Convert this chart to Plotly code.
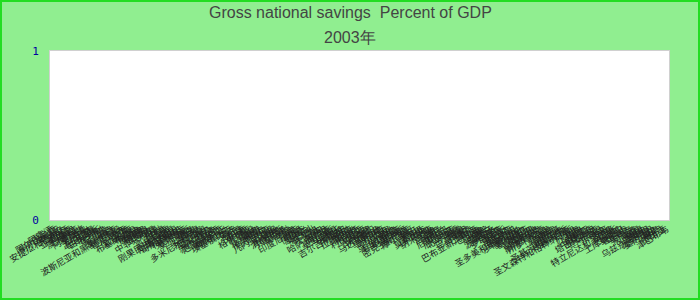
import plotly.graph_objects as go

countries = [
    "阿富汗", "阿尔巴尼亚", "阿尔及利亚", "安哥拉", "安提瓜和巴布达", "阿根廷", "亚美尼亚", "阿鲁巴", "澳大利亚", "奥地利",
    "阿塞拜疆", "巴哈马", "巴林", "孟加拉国", "巴巴多斯", "白俄罗斯", "比利时", "伯利兹", "贝宁", "不丹",
    "玻利维亚", "波斯尼亚和黑塞哥维那", "博茨瓦纳", "巴西", "文莱", "保加利亚", "布基纳法索", "布隆迪", "佛得角", "柬埔寨",
    "喀麦隆", "加拿大", "中非共和国", "乍得", "智利", "中国", "哥伦比亚", "科摩罗", "刚果民主共和国", "刚果共和国",
    "哥斯达黎加", "科特迪瓦", "克罗地亚", "塞浦路斯", "捷克", "丹麦", "吉布提", "多米尼克", "多米尼加共和国", "厄瓜多尔",
    "埃及", "萨尔瓦多", "赤道几内亚", "厄立特里亚", "爱沙尼亚", "斯威士兰", "埃塞俄比亚", "斐济", "芬兰", "法国",
    "加蓬", "冈比亚", "格鲁吉亚", "德国", "加纳", "希腊", "格林纳达", "危地马拉", "几内亚", "几内亚比绍",
    "圭亚那", "海地", "洪都拉斯", "中国香港", "匈牙利", "冰岛", "印度", "印度尼西亚", "伊朗", "伊拉克",
    "爱尔兰", "以色列", "意大利", "牙买加", "日本", "约旦", "哈萨克斯坦", "肯尼亚", "基里巴斯", "韩国",
    "科索沃", "科威特", "吉尔吉斯斯坦", "老挝", "拉脱维亚", "黎巴嫩", "莱索托", "利比里亚", "利比亚", "立陶宛",
    "卢森堡", "中国澳门", "马达加斯加", "马拉维", "马来西亚", "马尔代夫", "马里", "马耳他", "马绍尔群岛", "毛里塔尼亚",
    "毛里求斯", "墨西哥", "密克罗尼西亚", "摩尔多瓦", "蒙古", "黑山", "摩洛哥", "莫桑比克", "缅甸", "纳米比亚",
    "瑙鲁", "尼泊尔", "荷兰", "新西兰", "尼加拉瓜", "尼日尔", "尼日利亚", "北马其顿", "挪威", "阿曼",
    "巴基斯坦", "帕劳", "巴拿马", "巴布亚新几内亚", "巴拉圭", "秘鲁", "菲律宾", "波兰", "葡萄牙", "波多黎各",
    "卡塔尔", "罗马尼亚", "俄罗斯", "卢旺达", "萨摩亚", "圣马力诺", "圣多美和普林西比", "沙特阿拉伯", "塞内加尔", "塞尔维亚",
    "塞舌尔", "塞拉利昂", "新加坡", "斯洛伐克", "斯洛文尼亚", "所罗门群岛", "索马里", "南非", "南苏丹", "西班牙",
    "斯里兰卡", "圣基茨和尼维斯", "圣卢西亚", "圣文森特和格林纳丁斯", "苏丹", "苏里南", "瑞典", "瑞士", "叙利亚", "中国台湾",
    "塔吉克斯坦", "坦桑尼亚", "泰国", "东帝汶", "多哥", "汤加", "特立尼达和多巴哥", "突尼斯", "土耳其", "土库曼斯坦",
    "图瓦卢", "乌干达", "乌克兰", "阿联酋", "英国", "美国", "乌拉圭", "乌兹别克斯坦", "瓦努阿图", "委内瑞拉",
    "越南", "也门", "赞比亚", "津巴布韦",
]
# No values reported for 2003
savings = [None] * len(countries)

title_lines = ["Gross national savings  Percent of GDP", "2003年"]
y_ticks = [0, 1]

W, H = 700, 300
L, R, T, B = 50, 31, 51, 80
pw, ph = W - L - R, H - T - B

fig = go.Figure(go.Bar(x=countries, y=savings, marker_color="#4472c4"))

title_font = dict(family="Liberation Sans, Arial, sans-serif", size=16, color="#444444")
annotations = [
    dict(text=title_lines[0], xref="paper", yref="paper", x=(W / 2 - L) / pw, y=1 + (T - 13) / ph,
         xanchor="center", yanchor="middle", showarrow=False, font=title_font),
    dict(text=title_lines[1], xref="paper", yref="paper", x=(W / 2 - L) / pw, y=1 + (T - 37) / ph,
         xanchor="center", yanchor="middle", showarrow=False, font=title_font),
]

fig.update_layout(
    width=W, height=H,
    margin=dict(l=L, r=R, t=T, b=B, pad=0),
    paper_bgcolor="#90ee90",
    plot_bgcolor="#ffffff",
    showlegend=False,
    annotations=annotations,
    xaxis=dict(type="category", tickmode="array", tickvals=countries, ticktext=countries,
               tickangle=-30, tickfont=dict(family="Noto Sans CJK SC", size=9, color="#222222"),
               showgrid=False, showline=True, linecolor="#d0d0d0", mirror=True, ticks="",
               zeroline=False, fixedrange=True, automargin=False),
    yaxis=dict(range=[0, 1], tickmode="array", tickvals=y_ticks, ticktext=[str(v) for v in y_ticks],
               tickfont=dict(family="DejaVu Sans Mono, monospace", size=11, color="#0000a0"),
               showgrid=False, showline=True, linecolor="#d0d0d0", mirror=True, ticks="",
               zeroline=False, ticklabelstandoff=8, automargin=False),
    shapes=[dict(type="rect", xref="paper", yref="paper",
                 x0=-(L - 1) / pw, x1=1 + (R - 1) / pw,
                 y0=-(B - 1) / ph, y1=1 + (T - 1) / ph,
                 line=dict(color="#22dd22", width=2), fillcolor="rgba(0,0,0,0)", layer="below")],
)

fig.write_html("out.html")
